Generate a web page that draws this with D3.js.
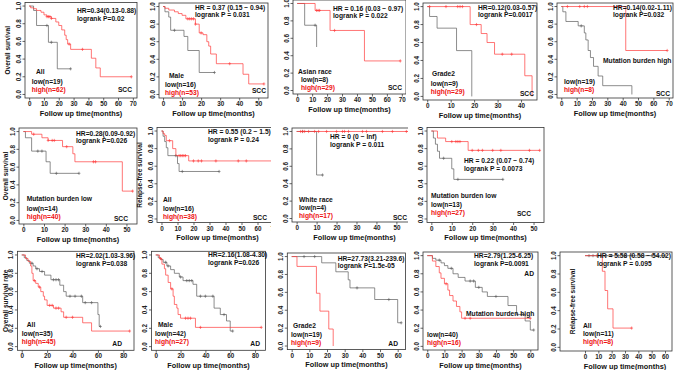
<!DOCTYPE html>
<html>
<head>
<meta charset="utf-8">
<script src="https://cdn.jsdelivr.net/npm/d3@7"></script>
<style>
  body { margin: 0; background: #fff; }
  svg { display: block; }
  text { font-family: "Liberation Sans", Arial, sans-serif; font-weight: bold; }
</style>
</head>
<body>
<svg id="fig" width="676" height="370"></svg>
<script>
// ---- data: KM steps [time, survival], censor times -------------------------
// SCC, all, overall survival
const sccAllOsLow = [[0,1],[3,0.95],[5,0.78],[13,0.59],[19,0.29],[28,0.29]];
const sccAllOsLowCens = [12,15,28];
const sccAllOsHigh = [[0,1],[1,0.98],[3,0.97],[5,0.95],[8,0.93],[10,0.9],[12,0.88],[15,0.86],[18,0.82],[20,0.78],[22,0.73],[24,0.67],[25,0.62],[26,0.57],[28,0.51],[42,0.41],[45,0.30],[48,0.2],[69,0.2]];
const sccAllOsHighCens = [12,13,14,15,27,36,69];
// SCC, male
const sccMaleLow = [[0,1],[1,0.94],[3,0.88],[4,0.73],[11,0.66],[13,0.5],[19,0.25],[27,0.25]];
const sccMaleLowCens = [6,27];
const sccMaleHigh = [[0,1],[1,0.98],[3,0.96],[6,0.94],[8,0.92],[10,0.9],[12,0.86],[17,0.8],[19,0.7],[21,0.68],[23,0.6],[24,0.55],[25,0.46],[28,0.35],[42,0.23],[45,0.12],[53,0.12]];
const sccMaleHighCens = [13,14,15,16,17,20,35,53];
// SCC, asian race
const sccAsianLow = [[0,1],[5,0.75],[13,0.5]];
const sccAsianLowCens = [12];
const sccAsianHigh = [[0,1],[12,0.92],[22,0.69],[45,0.34],[69,0.34]];
const sccAsianHighCens = [13,14,15,25,69];
// SCC, grade 2
const sccGrade2Low = [[0,1],[1,0.89],[4.2,0.76],[12.5,0.51],[19,0]];
const sccGrade2LowCens = [];
const sccGrade2High = [[0,1],[18.3,0.8],[23,0.7],[25.5,0.6],[28.7,0.47],[41.6,0.23],[44.7,0]];
const sccGrade2HighCens = [1,8,13,14,15,21,32,36];
// SCC, mutation burden high
const sccMutHighLow = [[0,1],[1,0.94],[3,0.83],[11,0.78],[15,0.7],[16,0.62],[17.5,0.5],[19,0.42],[21,0.32],[24,0.21],[27,0.1],[46,0]];
const sccMutHighLowCens = [13];
const sccMutHighHigh = [[0,1],[42,0.5],[69,0.5]];
const sccMutHighHighCens = [4,12,15,17,69];
// SCC, mutation burden low
const sccMutLowLow = [[0,1],[1,0.93],[4,0.78],[11,0.66],[13,0.53],[27,0.53]];
const sccMutLowLowCens = [7,9,16,27];
const sccMutLowHigh = [[0,1],[4,0.97],[9,0.93],[12,0.9],[19,0.83],[24,0.75],[25,0.66],[48,0.33],[53,0.33]];
const sccMutLowHighCens = [5,12,14,15,21,34,35,53];
// SCC, all, relapse-free
const sccAllRfsLow = [[0,1],[1,0.94],[2,0.88],[3,0.81],[4,0.72],[10,0.63],[11,0.54],[36,0.54]];
const sccAllRfsLowCens = [9,13,36];
const sccAllRfsHigh = [[0,1],[1,0.97],[2,0.95],[3,0.89],[7,0.8],[9,0.72],[17,0.66],[70,0.66]];
const sccAllRfsHighCens = [5,11,12,13,14,15,20,23,25,34,48,53,70];
// SCC, white race, relapse-free
const sccWhiteLow = [[0,1],[10,0.5],[13,0.5]];
const sccWhiteLowCens = [3,13];
const sccWhiteHigh = [[0,1],[58,1]];
const sccWhiteHighCens = [2,3,4,6,9,11,15,20,23,24,26,33,35,43,48,55,58];
// SCC, mutation burden low, relapse-free
const sccMutLowRfsLow = [[0,1],[1,0.92],[2,0.85],[3,0.77],[4,0.69],[10,0.57],[11,0.45],[35,0.45]];
const sccMutLowRfsLowCens = [6,13,35];
const sccMutLowRfsHigh = [[0,1],[3,0.92],[7,0.88],[18,0.78],[53,0.78]];
const sccMutLowRfsHighCens = [10,12,13,14,20,23,25,30,34,48,53];
// AD, all
const adAllLow = [[0,1],[2,0.97],[4,0.94],[6,0.91],[9,0.88],[11,0.85],[14,0.82],[18,0.78],[23,0.73],[30,0.67],[33,0.6],[35,0.55],[48,0.48],[60,0.35],[61,0.22],[62,0.22]];
const adAllLowCens = [8,12,16,25,27,29,38,42,47,50,55,62];
const adAllHigh = [[0,1],[3,0.96],[5,0.93],[7,0.88],[8,0.8],[9,0.72],[11,0.69],[13,0.65],[15,0.6],[17,0.55],[18,0.51],[20,0.45],[25,0.42],[31,0.38],[33,0.32],[48,0.26],[55,0.17],[85,0.17]];
const adAllHighCens = [10,14,22,24,27,29,35,40,85];
// AD, male
const adMaleLow = [[0,1],[2,0.97],[4,0.95],[6,0.92],[9,0.88],[12,0.84],[15,0.8],[19,0.76],[22,0.72],[30,0.68],[33,0.55],[47,0.42],[52,0.35],[57,0.28],[60,0.17],[62,0.17]];
const adMaleLowCens = [8,10,20,25,27,29,36,40,46,55,62];
const adMaleHigh = [[0,1],[3,0.96],[5,0.9],[7,0.85],[8,0.78],[10,0.7],[12,0.63],[14,0.55],[15,0.46],[17,0.42],[18,0.35],[20,0.31],[32,0.21],[85,0.21]];
const adMaleHighCens = [4,13,24,26,28,36,85];
// AD, grade 2
const adGrade2Low = [[0,1],[17,0.93],[25,0.83],[32,0.74],[33,0.65],[47,0.52],[60,0.26],[62,0.26]];
const adGrade2LowCens = [7,13,37,55,62];
const adGrade2High = [[0,1],[3,0.89],[14,0.59],[16,0.39],[21,0.19],[23.5,0]];
const adGrade2HighCens = [];
// AD, mutation burden high
const adMutHighLow = [[0,1],[3,0.97],[5,0.95],[8,0.92],[10,0.89],[12,0.86],[15,0.8],[18,0.76],[22,0.72],[28,0.65],[32,0.6],[35,0.55],[47,0.45],[52,0.35],[57,0.28],[60,0.18],[62,0.18]];
const adMutHighLowCens = [7,14,25,27,30,40,55,62];
const adMutHighHigh = [[0,1],[3,0.94],[5,0.88],[7,0.81],[8,0.75],[10,0.69],[12,0.62],[13,0.56],[15,0.5],[17,0.44],[19,0.38],[20,0.31],[60,0.31]];
const adMutHighHighCens = [11,22,25,60];
// AD, all, relapse-free
const adRfsLow = [[0,1],[60,1]];
const adRfsLowCens = [3,6,9,12,16,20,25,30,35,42,50,60];
const adRfsHigh = [[0,1],[13,0.83],[15,0.62],[17,0.42],[21,0.21],[35,0.21]];
const adRfsHighCens = [35];

// ---- text ------------------------------------------------------------------
const hrTexts = ["HR=0.34(0.13-0.88)","HR = 0.37 (0.15 \u2212 0.94)","HR = 0.16 (0.03 \u2212 0.97)","HR=0.12(0.03-0.57)","HR=0.14(0.02-1.11)",
  "HR=0.28(0.09-0.92)","HR = 0.55 (0.2 \u2212 1.5)","HR = 0 (0 \u2212 Inf)","HR = 0.22 (0.07 \u2212 0.74)",
  "HR=2.02(1.03-3.96)","HR=2.16(1.08-4.30)","HR=27.73(3.21-239.6)","HR=2.79(1.25-6.25)","HR = 5.58 (0.58 \u2212 54.02)"];
const pTexts = ["logrank P=0.02","logrank P = 0.031","logrank P = 0.022","logrank P=0.0017","logrank P=0.032",
  "logrank P=0.026","logrank P = 0.24","logrank P = 0.011","logrank P = 0.0073",
  "logrank P=0.038","logrank P=0.026","logrank P=1.5e-05","logrank P=0.0091","logrank P = 0.095"];
const groupTexts = ["All","Male","Asian race","Grade2","Mutation burden high",
  "Mutation burden low","All","White race","Mutation burden low",
  "All","Male","Grade2","Mutation burden high","All"];
const lowTexts = ["low(n=19)","low(n=16)","low(n=8)","low(n=9)","low(n=19)",
  "low(n=14)","low(n=16)","low(n=4)","low(n=13)",
  "low(n=35)","low(n=42)","low(n=19)","low(n=40)","low(n=11)"];
const highTexts = ["high(n=62)","high(n=53)","high(n=29)","high(n=29)","high(n=8)",
  "high(n=40)","high(n=38)","high(n=17)","high(n=27)",
  "high(n=45)","high(n=27)","high(n=9)","high(n=16)","high(n=8)"];
const tagTexts = ["SCC","SCC","SCC","SCC","SCC","SCC","SCC","SCC","SCC","AD","AD","AD","AD",""];
const yTitles = ["Overall survival","","","","","Overall survival","Relapse-free survival","","",
  "Overall survival rate","","","","Relapse-free survival"];

const curves = [
  [sccAllOsLow,sccAllOsLowCens,sccAllOsHigh,sccAllOsHighCens],
  [sccMaleLow,sccMaleLowCens,sccMaleHigh,sccMaleHighCens],
  [sccAsianLow,sccAsianLowCens,sccAsianHigh,sccAsianHighCens],
  [sccGrade2Low,sccGrade2LowCens,sccGrade2High,sccGrade2HighCens],
  [sccMutHighLow,sccMutHighLowCens,sccMutHighHigh,sccMutHighHighCens],
  [sccMutLowLow,sccMutLowLowCens,sccMutLowHigh,sccMutLowHighCens],
  [sccAllRfsLow,sccAllRfsLowCens,sccAllRfsHigh,sccAllRfsHighCens],
  [sccWhiteLow,sccWhiteLowCens,sccWhiteHigh,sccWhiteHighCens],
  [sccMutLowRfsLow,sccMutLowRfsLowCens,sccMutLowRfsHigh,sccMutLowRfsHighCens],
  [adAllLow,adAllLowCens,adAllHigh,adAllHighCens],
  [adMaleLow,adMaleLowCens,adMaleHigh,adMaleHighCens],
  [adGrade2Low,adGrade2LowCens,adGrade2High,adGrade2HighCens],
  [adMutHighLow,adMutHighLowCens,adMutHighHigh,adMutHighHighCens],
  [adRfsLow,adRfsLowCens,adRfsHigh,adRfsHighCens]
];

// ---- layout (box = l,t,r,b ; xmax = time range ; positions of text) -------
const layout = [
  {box:[25,2.5,137,98], xmax:70, step:10, hr:[77,13.4], grp:[36,74], low:[31.7,84], tag:[132,92.4]},
  {box:[159,3,268,98], xmax:53, step:10, hr:[195,9.7], grp:[169,78.4], low:[165,86.7], tag:[266,93]},
  {box:[293,0,406,94], xmax:70, step:10, hr:[333,10.7], grp:[298,74], low:[301,82.4], tag:[402,89.7], clipR:406},
  {box:[423,3,537,100], xmax:45, step:10, hr:[478,9.7], grp:[432,76.4], low:[430.7,85.7], tag:[534,95.7]},
  {box:[557,3,673,98], xmax:70, step:10, hr:[613,9.7], grp:[603,63], low:[564,84], tag:[670,95.7]},
  {box:[19,128,137,224], xmax:53, step:10, hr:[76,135.7], grp:[26.7,201.4], low:[26.7,210.7], tag:[128,220.7]},
  {box:[157,127.5,278,222.5], xmax:70, step:10, hr:[208,134], grp:[163,202.4], low:[163,211.4], tag:[267,219.7], clipR:271},
  {box:[292,128,417,222], xmax:58, step:10, hr:[330,139.1], grp:[299,201.7], low:[299,209.7], tag:[407,219.6], clipR:408},
  {box:[427,127.5,544,222.5], xmax:53, step:10, hr:[464,163], grp:[431,198], low:[431,207.4], tag:[531,216.4]},
  {box:[17.4,251.3,134,350.3], xmax:85, step:20, hr:[76,258.4], grp:[26.7,327.4], low:[21.7,335.7], tag:[122,346.4]},
  {box:[151.5,251.3,265.5,350.3], xmax:85, step:20, hr:[208,257.4], grp:[158,327.4], low:[155,336.4], tag:[260,346.4]},
  {box:[287.3,253,405.6,349.6], xmax:62, step:10, hr:[337.7,260.7], grp:[293,328.4], low:[291,337.4], tag:[398,346.4]},
  {box:[423,252,538,350], xmax:62, step:10, hr:[474,258.4], grp:[466,316], low:[427,337], tag:[534,276]},
  {box:[560,252,672,351], xmax:60, step:10, xdom:[-18.75,65.25], ytx:575, hr:[597,258.4], grp:[583,328], low:[583,336.4], tag:[660,346]}
];

const LOW_COL = "#5c5c5c", HIGH_COL = "#ff3b3b", TXT_RED = "#ee1111";
const svg = d3.select("#fig");

function stepAt(pts, t) {
  let v = pts[0][1];
  pts.forEach(p => { if (p[0] <= t) v = p[1]; });
  return v;
}

function label(g, pos, str, opts = {}) {
  return g.append("text")
    .attr("x", pos[0]).attr("y", pos[1])
    .attr("font-size", opts.size || 6.7)
    .attr("fill", opts.fill || "#111")
    .attr("text-anchor", opts.anchor || "start")
    .text(str);
}

function drawPanel(L, i) {
  const [l, t, r, b] = L.box;
  const g = svg.append("g");
  if (L.clipR) {
    svg.append("clipPath").attr("id", "clip" + i).append("rect")
      .attr("x", l - 40).attr("y", t - 5).attr("width", L.clipR - l + 40).attr("height", b - t + 30);
    g.attr("clip-path", `url(#clip${i})`);
  }
  const pad = L.xmax * 0.04;
  const x = d3.scaleLinear().domain(L.xdom || [-pad, L.xmax + pad]).range([l, r]);
  const y = d3.scaleLinear().domain([-0.04, 1.04]).range([b, t]);

  // x axis
  const xa = g.append("g").attr("transform", `translate(0,${b})`)
    .call(d3.axisBottom(x).tickValues(d3.range(0, L.xmax + 0.001, L.step)).tickSize(2.5).tickPadding(1.2));
  xa.select(".domain").remove();
  xa.attr("font-family", null).attr("font-size", 6.3).attr("color", "#222");
  xa.selectAll("line").attr("stroke-width", 0.7);

  // y axis (R style: rotated labels)
  const yTicks = [0, 0.2, 0.4, 0.6, 0.8, 1.0];
  g.selectAll(".yt").data(yTicks).enter().append("line")
    .attr("x1", l - 2.5).attr("x2", l).attr("y1", d => y(d)).attr("y2", d => y(d))
    .attr("stroke", "#222").attr("stroke-width", 0.7);
  g.selectAll(".yl").data(yTicks).enter().append("text")
    .attr("transform", d => `translate(${l - 4.5},${y(d)}) rotate(-90)`)
    .attr("text-anchor", "middle").attr("font-size", 6.3).attr("fill", "#222")
    .text(d3.format(".1f"));

  // box
  g.append("rect").attr("x", l).attr("y", t).attr("width", r - l).attr("height", b - t)
    .attr("fill", "none").attr("stroke", "#333").attr("stroke-width", 0.8);

  // titles
  g.append("text").attr("x", (x(0) + x(L.xmax)) / 2).attr("y", b + 17.5)
    .attr("text-anchor", "middle").attr("font-size", 7.3).attr("fill", "#111")
    .text("Follow up time(months)");
  if (yTitles[i]) {
    const tx = L.ytx || Math.max(l - 15, 7.5);
    g.append("text").attr("transform", `translate(${tx},${(t + b) / 2}) rotate(-90)`)
      .attr("text-anchor", "middle").attr("font-size", 6.5).attr("fill", "#111")
      .text(yTitles[i]);
  }

  // curves
  const line = d3.line().x(d => x(d[0])).y(d => y(d[1])).curve(d3.curveStepAfter);
  const [lowPts, lowCens, highPts, highCens] = curves[i];
  [[lowPts, lowCens, LOW_COL], [highPts, highCens, HIGH_COL]].forEach(([pts, cens, col]) => {
    g.append("path").attr("d", line(pts)).attr("fill", "none")
      .attr("stroke", col).attr("stroke-width", 0.7);
    g.selectAll(null).data(cens).enter().append("path")
      .attr("d", c => {
        const cx = x(c), cy = y(stepAt(pts, c));
        return `M${cx - 1.4},${cy}H${cx + 1.4}M${cx},${cy - 1.6}V${cy + 1.6}`;
      })
      .attr("stroke", col).attr("stroke-width", 0.6);
  });

  // annotations
  label(g, L.hr, hrTexts[i]);
  label(g, [L.hr[0], L.hr[1] + 7.7], pTexts[i]);
  label(g, L.grp, groupTexts[i]);
  label(g, L.low, lowTexts[i]);
  label(g, [L.low[0], L.low[1] + 8], highTexts[i], { fill: TXT_RED });
  if (tagTexts[i]) label(g, L.tag, tagTexts[i], { anchor: "end" });
}

layout.forEach(drawPanel);
</script>
</body>
</html>
